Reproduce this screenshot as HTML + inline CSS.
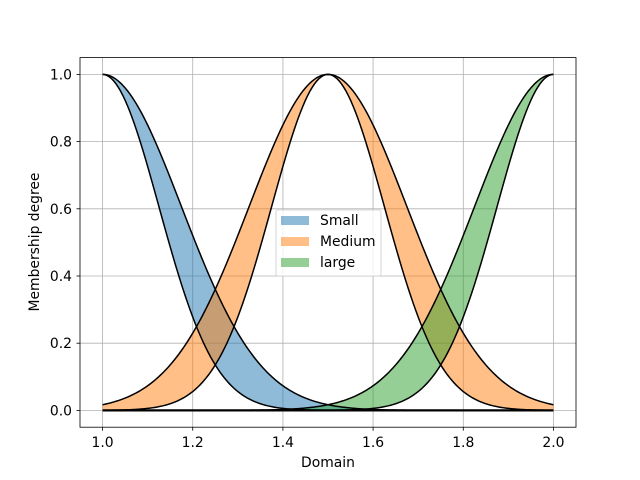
<!DOCTYPE html>
<html><head><meta charset="utf-8"><style>
html,body{margin:0;padding:0;background:#fff;}
svg{display:block;font-family:"DejaVu Sans","Liberation Sans",sans-serif;}
</style></head><body>
<svg id="s" width="640" height="480" viewBox="0 0 640 480" xmlns="http://www.w3.org/2000/svg">
<rect width="640" height="480" fill="#fff"/>
<g id="grid" stroke="#b0b0b0" stroke-width="0.8"></g>
<g id="fills"></g>
<g id="lines" fill="none" stroke="#000" stroke-width="1.5"></g>
<rect x="80" y="57.6" width="496" height="369.6" fill="none" stroke="#000" stroke-width="0.8"/>
<g id="ticks" stroke="#000" stroke-width="0.8"></g>
<g id="labels" font-size="13.9" fill="#000"></g>
<text x="328" y="467" font-size="13.9" text-anchor="middle">Domain</text>
<text transform="translate(39,242) rotate(-90)" font-size="13.9" text-anchor="middle">Membership degree</text>
<g>
<rect x="276" y="210" width="105" height="66" fill="#fff" fill-opacity="0.8" stroke="#ccc" stroke-width="0.8" rx="2"/>
<rect x="281" y="216" width="28" height="9" fill="#1f77b4" fill-opacity="0.5"/>
<text x="320" y="225" font-size="13.9">Small</text>
<rect x="281" y="237" width="28" height="9" fill="#ff7f0e" fill-opacity="0.5"/>
<text x="320" y="246" font-size="13.9">Medium</text>
<rect x="281" y="258" width="28" height="9" fill="#2ca02c" fill-opacity="0.5"/>
<text x="320" y="267" font-size="13.9">large</text>
</g>
</svg>
<script>
var NS="http://www.w3.org/2000/svg";
function X(v){return 80+(v-0.95)/1.1*496;}
function Y(v){return 427.2-(v+0.05)/1.1*369.6;}
function el(p,t,a,txt){var e=document.createElementNS(NS,t);for(var k in a)e.setAttribute(k,a[k]);if(txt)e.textContent=txt;document.getElementById(p).appendChild(e);return e;}
for(var i=0;i<=5;i++){var v=1+i*0.2,x=X(v);
el("grid","line",{x1:x,x2:x,y1:57.6,y2:427.2});
el("ticks","line",{x1:x,x2:x,y1:427.2,y2:430.7});
el("labels","text",{x:x,y:447,"text-anchor":"middle"},v.toFixed(1));
var w=i*0.2,y=Y(w);
el("grid","line",{x1:80,x2:576,y1:y,y2:y});
el("ticks","line",{x1:76.5,x2:80,y1:y,y2:y});
el("labels","text",{x:72,y:y+5,"text-anchor":"end"},w.toFixed(1));}
var su=0.175,sl=0.125;
function g(x,c,s){return Math.exp(-(x-c)*(x-c)/(2*s*s));}
var cs=[[1,"#1f77b4"],[1.5,"#ff7f0e"],[2,"#2ca02c"]];
cs.forEach(function(c){
var up=[],lo=[];
for(var i=0;i<=200;i++){var x=1+i/200;up.push(X(x).toFixed(2)+","+Y(g(x,c[0],su)).toFixed(2));lo.push(X(x).toFixed(2)+","+Y(g(x,c[0],sl)).toFixed(2));}
el("fills","path",{d:"M"+up.join("L")+"L"+lo.slice().reverse().join("L")+"Z",fill:c[1],"fill-opacity":0.5});
el("lines","path",{d:"M"+up.join("L")});
el("lines","path",{d:"M"+lo.join("L")});
});
el("lines","line",{x1:X(1),x2:X(2),y1:Y(0),y2:Y(0),"stroke-width":2.2});
</script>
</body></html>
